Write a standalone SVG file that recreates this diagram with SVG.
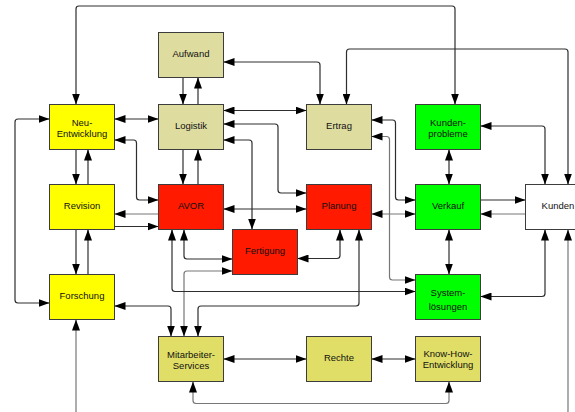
<svg xmlns="http://www.w3.org/2000/svg" width="575" height="412" viewBox="0 0 575 412">
  <style>
    .box { stroke: #3c3c3c; stroke-width: 1; }
    .yel { fill: #ffff00; }
    .tan { fill: #dfdca0; }
    .red { fill: #ff1a00; }
    .grn { fill: #00ff00; }
    .oli { fill: #e0de66; }
    .wht { fill: #ffffff; }
    text { font-family: "Liberation Sans", Arial, sans-serif; font-size: 9.5px; fill: #111; text-anchor: middle; }
    .c { fill: none; stroke: #2e2e2e; stroke-width: 1.2; }
    .g { stroke: #777777; }
    .bi { marker-start: url(#ah); marker-end: url(#ah); }
    .one { marker-end: url(#ah); }
  </style>
  <defs>
    <marker id="ah" viewBox="0 0 11 8" refX="11" refY="4" markerWidth="11" markerHeight="8" markerUnits="userSpaceOnUse" orient="auto-start-reverse">
      <path d="M0,0 L11,4 L0,8 z" fill="#000"/>
    </marker>
  </defs>

  <rect width="575" height="412" fill="#ffffff"/>

  <g id="connectors">
    <path class="c bi" d="M76,104.5 V9 Q76,6 79,6 H452 Q455,6 455,9 V104.5"/>
    <path class="c bi" d="M346.5,104.5 V52 Q346.5,49 349.5,49 H565 Q568,49 568,52 V184.5"/>
    <path class="c bi" d="M223.5,62 H317 Q320,62 320,65 V104.5"/>
    <path class="c one" d="M183,77.5 V104.5"/>
    <path class="c one" d="M198,104.5 V77.5"/>
    <path class="c bi" d="M114.5,119 H158.5"/>
    <path class="c bi" d="M223.5,110.5 H306.5"/>
    <path class="c bi" d="M223.5,124 H275 Q278,124 278,127 V190 Q278,193 281,193 H306.5"/>
    <path class="c bi" d="M223.5,140 H249 Q252,140 252,143 V229.5"/>
    <path class="c bi" d="M114.5,140 H133.5 Q136.5,140 136.5,143 V197 Q136.5,200 139.5,200 H158.5"/>
    <path class="c one" d="M76,149.5 V184.5"/>
    <path class="c one" d="M88,184.5 V149.5"/>
    <path class="c one" d="M183,149.5 V184.5"/>
    <path class="c one" d="M198,184.5 V149.5"/>
    <path class="c g one" d="M158.5,214 H114.5"/>
    <path class="c one" d="M114.5,226.5 H158.5"/>
    <path class="c bi" d="M223.5,209 H306.5"/>
    <path class="c bi" d="M49.5,303 H18 Q15,303 15,300 V122 Q15,119 18,119 H49.5"/>
    <path class="c one" d="M76,229.5 V274.5"/>
    <path class="c one" d="M88,274.5 V229.5"/>
    <path class="c bi" d="M114.5,306 H168 Q171,306 171,309 V336.5"/>
    <path class="c bi" d="M184,229.5 V256 Q184,259 187,259 H232.5"/>
    <path class="c g bi" d="M184,336.5 V274 Q184,271 187,271 H232.5"/>
    <path class="c bi" d="M172,229.5 V288.5 Q172,291.5 175,291.5 H415.5"/>
    <path class="c bi" d="M198,336.5 V309 Q198,306 201,306 H356 Q359,306 359,303 V229.5"/>
    <path class="c bi" d="M340,229.5 V255.5 Q340,258.5 337,258.5 H297.5"/>
    <path class="c bi" d="M371.5,120 H392.5 Q395.5,120 395.5,123 V197 Q395.5,200 398.5,200 H415.5"/>
    <path class="c g bi" d="M371.5,136.5 H386.5 Q389.5,136.5 389.5,139.5 V277 Q389.5,280 392.5,280 H415.5"/>
    <path class="c g bi" d="M371.5,214 H415.5"/>
    <path class="c bi" d="M449,149.5 V184.5"/>
    <path class="c bi" d="M449,229.5 V274.5"/>
    <path class="c bi" d="M480.5,126 H542 Q545,126 545,129 V184.5"/>
    <path class="c one" d="M480.5,200 H525.5"/>
    <path class="c g one" d="M525.5,214 H480.5"/>
    <path class="c bi" d="M480.5,296.5 H542 Q545,296.5 545,293.5 V229.5"/>
    <path class="c g bi" d="M76,319.5 V411 Q76,414 79,414 H565 Q568,414 568,411 V229.5"/>
    <path class="c bi" d="M223.5,359 H306.5"/>
    <path class="c bi" d="M371.5,359 H415.5"/>
    <path class="c g bi" d="M193,381.5 V400.5 Q193,403.5 196,403.5 H446 Q449,403.5 449,400.5 V381.5"/>
  </g>

  <g id="aufwand"><rect class="box tan" x="158.5" y="32.5" width="65" height="45"/><text x="191" y="56.5">Aufwand</text></g>
  <g id="logistik"><rect class="box tan" x="158.5" y="104.5" width="65" height="45"/><text x="191" y="129">Logistik</text></g>
  <g id="neu-entwicklung"><rect class="box yel" x="49.5" y="104.5" width="65" height="45"/><text x="82" y="125.5">Neu-</text><text x="82" y="137">Entwicklung</text></g>
  <g id="revision"><rect class="box yel" x="49.5" y="184.5" width="65" height="45"/><text x="82" y="209">Revision</text></g>
  <g id="avor"><rect class="box red" x="158.5" y="184.5" width="65" height="45"/><text x="191" y="209">AVOR</text></g>
  <g id="forschung"><rect class="box yel" x="49.5" y="274.5" width="65" height="45"/><text x="82" y="299">Forschung</text></g>
  <g id="fertigung"><rect class="box red" x="232.5" y="229.5" width="65" height="45"/><text x="265" y="254">Fertigung</text></g>
  <g id="mitarbeiter-services"><rect class="box oli" x="158.5" y="336.5" width="65" height="45"/><text x="191" y="357.5">Mitarbeiter-</text><text x="191" y="369">Services</text></g>
  <g id="ertrag"><rect class="box tan" x="306.5" y="104.5" width="65" height="45"/><text x="339" y="129">Ertrag</text></g>
  <g id="planung"><rect class="box red" x="306.5" y="184.5" width="65" height="45"/><text x="339" y="209">Planung</text></g>
  <g id="kundenprobleme"><rect class="box grn" x="415.5" y="104.5" width="65" height="45"/><text x="448" y="125.5">Kunden-</text><text x="448" y="137">probleme</text></g>
  <g id="verkauf"><rect class="box grn" x="415.5" y="184.5" width="65" height="45"/><text x="448" y="209">Verkauf</text></g>
  <g id="kunden"><rect class="box wht" x="525.5" y="184.5" width="65" height="45"/><text x="558" y="209">Kunden</text></g>
  <g id="systemloesungen"><rect class="box grn" x="415.5" y="274.5" width="65" height="45"/><text x="448" y="295.5">System-</text><text x="448" y="310">lösungen</text></g>
  <g id="rechte"><rect class="box oli" x="306.5" y="336.5" width="65" height="45"/><text x="339" y="361">Rechte</text></g>
  <g id="know-how-entwicklung"><rect class="box oli" x="415.5" y="336.5" width="65" height="45"/><text x="448" y="356.5">Know-How-</text><text x="448" y="368">Entwicklung</text></g>
</svg>
